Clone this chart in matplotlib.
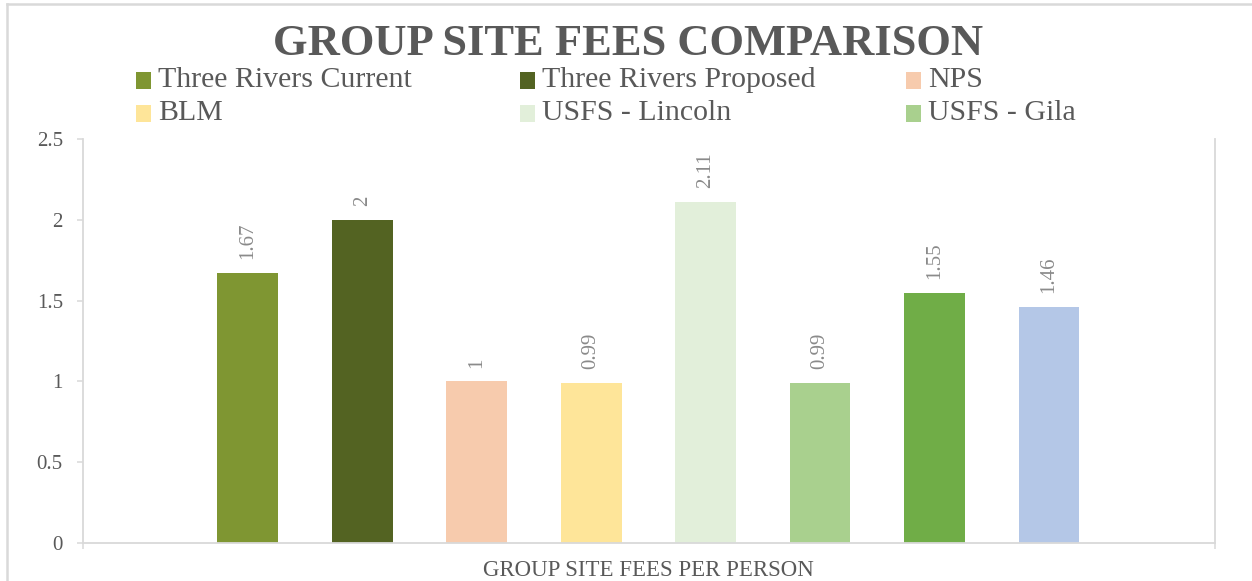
import matplotlib.pyplot as plt
from matplotlib.patches import Rectangle
from matplotlib.lines import Line2D

# data
series = ["Three Rivers Current", "Three Rivers Proposed", "NPS", "BLM",
          "USFS - Lincoln", "USFS - Gila", "Series 7", "Series 8"]
fees = [1.67, 2, 1, 0.99, 2.11, 0.99, 1.55, 1.46]
value_labels = ["1.67", "2", "1", "0.99", "2.11", "0.99", "1.55", "1.46"]
colors = ["#7f9632", "#536322", "#f7cbad", "#fee599",
          "#e2efda", "#a9d08e", "#70ad47", "#b4c7e7"]
legend_count = 6  # only the first six series are shown in the legend
yticks = [0, 0.5, 1, 1.5, 2, 2.5]
ytick_labels = ["0", "0.5", "1", "1.5", "2", "2.5"]

plt.rcParams['font.family'] = ['Liberation Serif', 'DejaVu Serif']
text_gray = "#595959"
line_gray = "#d9d9d9"

fig = plt.figure(figsize=(12.52, 5.81), dpi=100)
ax = fig.add_axes([0.0663, 0.0654, 0.9041, 0.6954])

bars = []
for i, (val, col) in enumerate(zip(fees, colors)):
    b = ax.bar(i, val, width=0.53, color=col, zorder=2)
    bars.append(b)
    ax.annotate(value_labels[i], (i, val), xytext=(0, 10), textcoords="offset points",
                rotation=90, ha="center", va="bottom", fontsize=15, color="#8a8a8a")

ax.set_xlim(-1.44, 8.45)
ax.set_ylim(0, 2.5)
ax.set_yticks(yticks)
ax.set_yticklabels(ytick_labels, fontsize=15, color=text_gray)
ax.set_xticks([-1.44, 8.45])
ax.set_xticklabels([])
ax.tick_params(axis="both", direction="out", length=4.5, width=1.1, color=line_gray)
ax.tick_params(axis="y", pad=10)

for side in ["left", "bottom", "right"]:
    ax.spines[side].set_color(line_gray)
    ax.spines[side].set_linewidth(1.3)
ax.spines["top"].set_visible(False)

# x axis title
fig.text(0.518, 0.018, "GROUP SITE FEES PER PERSON", ha="center", va="center",
         fontsize=16.5, color=text_gray)

# chart title
fig.text(0.502, 0.925, "GROUP SITE FEES COMPARISON", ha="center", va="center",
         fontsize=32, fontweight="bold", color=text_gray)

# legend, three equal columns
col_x = [136, 520, 906]
row_y = [80, 113]
W, H = 1252, 581
for k in range(legend_count):
    r, c = divmod(k, 3)
    x0 = col_x[c] / W
    yc = 1 - row_y[r] / H
    fig.add_artist(Rectangle((x0, yc - 8.5 / H), 15 / W, 17 / H,
                             transform=fig.transFigure,
                             facecolor=bars[k][0].get_facecolor(), edgecolor="none"))
    fig.text(x0 + 22 / W, yc, series[k], ha="left", va="center",
             fontsize=21.5, color=text_gray)

# chart area frame (top and left edges visible)
fig.add_artist(Line2D([7 / W, 1], [1 - 4 / H, 1 - 4 / H], transform=fig.transFigure,
                      color=line_gray, linewidth=1.8))
fig.add_artist(Line2D([7 / W, 7 / W], [0, 1 - 4 / H], transform=fig.transFigure,
                      color=line_gray, linewidth=1.8))

fig.savefig("out.png", dpi=100)
